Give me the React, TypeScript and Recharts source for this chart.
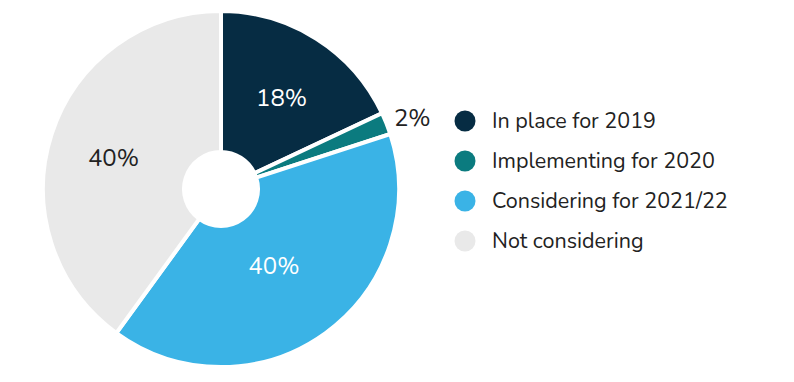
import { PieChart, Pie, Cell } from 'recharts';

const categories = ['In place for 2019', 'Implementing for 2020', 'Considering for 2021/22', 'Not considering'];
const shares = [18, 2, 40, 40];
const colors = ['#062c43', '#0b7b7f', '#3ab3e6', '#e9e9e9'];
const labelColors = ['#ffffff', '#222222', '#ffffff', '#222222'];

const data = categories.map((name, i) => ({ name, value: shares[i] }));

const RADIAN = Math.PI / 180;
const FONT = 'Nunito, Lato, "Open Sans", sans-serif';

const renderLabel = (props: any) => {
  const { cx, cy, midAngle, outerRadius, index, value } = props;
  // small slice gets its label outside, the rest inside
  const outside = index === 1;
  const r = outside ? outerRadius + 8 : index === 2 ? 90 : 113;
  const x = cx + r * Math.cos(-midAngle * RADIAN);
  const y = cy + r * Math.sin(-midAngle * RADIAN) + (outside ? -3 : 4);
  return (
    <text
      x={x}
      y={y}
      fill={labelColors[index]}
      textAnchor={outside ? 'start' : 'middle'}
      dominantBaseline="central"
      fontSize={24}
      fontFamily={FONT}
    >
      {`${value}%`}
    </text>
  );
};

const LegendBox = () => (
  <ul
    style={{
      position: 'absolute',
      left: 446,
      top: 93,
      listStyle: 'none',
      margin: 0,
      padding: 0,
      fontFamily: FONT,
    }}
  >
    {categories.map((name, i) => (
      <li key={name} style={{ display: 'flex', alignItems: 'center', height: 40 }}>
        <svg width={22} height={22} style={{ marginRight: 16 }}>
          <circle cx={11} cy={11} r={10.5} fill={colors[i]} />
        </svg>
        <span style={{ fontSize: 21.5, color: '#222' }}>{name}</span>
      </li>
    ))}
  </ul>
);

export default function App() {
  return (
    <div style={{ position: 'relative', width: 794, height: 382 }}>
      <PieChart width={794} height={382} margin={{ top: 0, right: 0, bottom: 0, left: 0 }}>
        <Pie
          data={data}
          dataKey="value"
          nameKey="name"
          cx={213}
          cy={181}
          innerRadius={37}
          outerRadius={178}
          startAngle={90}
          endAngle={-270}
          stroke="#ffffff"
          strokeWidth={4}
          label={renderLabel}
          labelLine={false}
          isAnimationActive={false}
        >
          {data.map((_, i) => (
            <Cell key={i} fill={colors[i]} />
          ))}
        </Pie>
      </PieChart>
      <LegendBox />
    </div>
  );
}
